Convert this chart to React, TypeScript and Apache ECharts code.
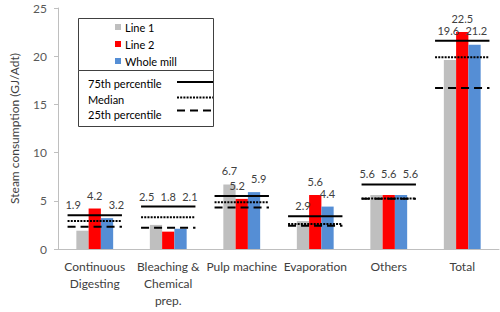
import { useEffect, useRef } from "react";
import * as echarts from "echarts";

// Steam consumption per department (GJ/Adt)
const categories = [
  "Continuous\nDigesting",
  "Bleaching &\nChemical\nprep.",
  "Pulp machine",
  "Evaporation",
  "Others",
  "Total",
];
const line1 = [1.9, 2.5, 6.7, 2.9, 5.6, 19.6];
const line2 = [4.2, 1.8, 5.2, 5.6, 5.6, 22.5];
const wholeMill = [3.2, 2.1, 5.9, 4.4, 5.6, 21.2];

// Benchmark percentiles per department
const p75 = [3.5, 4.4, 5.5, 3.4, 6.7, 21.6];
const median = [2.9, 3.3, 4.85, 2.6, 5.25, 19.9];
const p25 = [2.3, 2.2, 4.3, 2.4, 5.2, 16.7];

const yMin = 0;
const yMax = 25;
const yStep = 5;

const FONT = "Lato, 'Open Sans', sans-serif";
const LABEL_SIZE = 11;
const BAR_FRAC = 0.167; // bar width as a share of the category band
const LINE_HALF = 0.37; // half-length of percentile markers, share of band

const barSeries = [
  { name: "Line 1", values: line1, color: "#bfbfbf" },
  { name: "Line 2", values: line2, color: "#ff0000" },
  { name: "Whole mill", values: wholeMill, color: "#558ed5" },
];

const percentileSeries = [
  { name: "75th percentile", values: p75, dash: null as number[] | null },
  { name: "Median", values: median, dash: [2, 1.2] },
  { name: "25th percentile", values: p25, dash: [8, 5] },
];

// rough advance width of a numeric label
const textWidth = (s: string) =>
  s.split("").reduce((w, ch) => w + (ch === "." ? 0.26 : 0.58) * LABEL_SIZE, 0);

export default function App() {
  const ref = useRef<HTMLDivElement>(null);

  useEffect(() => {
    if (!ref.current) return;
    const chart = echarts.init(ref.current, undefined, { renderer: "svg" });

    const bars = barSeries.map((s) => ({
      name: s.name,
      type: "bar",
      data: s.values,
      barWidth: `${BAR_FRAC * 100}%`,
      barGap: "0%",
      itemStyle: { color: s.color },
      z: 2,
    }));

    // Value labels: each sits above its bar or the 75th percentile line,
    // whichever is higher, and labels of one group are pushed apart when they collide.
    const labelSeries = {
      type: "custom",
      name: "value labels",
      data: categories.map((_, i) => [i, line1[i], line2[i], wholeMill[i], p75[i]]),
      z: 5,
      silent: true,
      renderItem: (_params: any, api: any) => {
        const i = api.value(0);
        const band = api.size([1, 0])[0];
        const ref75 = api.value(4);
        const items = [0, 1, 2].map((k) => {
          const v = api.value(k + 1);
          const onBar = v >= ref75;
          const c = api.coord([i, onBar ? v : ref75]);
          const text = Number(v).toFixed(1);
          return {
            text,
            w: textWidth(text),
            x: c[0] + (k - 1) * band * BAR_FRAC,
            y: c[1] - (onBar ? 13.5 : 10.5),
          };
        });
        for (let it = 0; it < 30; it++) {
          for (let a = 0; a < items.length; a++) {
            for (let b = a + 1; b < items.length; b++) {
              const A = items[a];
              const B = items[b];
              if (Math.abs(A.y - B.y) >= 11) continue;
              const need = (A.w + B.w) / 2 + 6;
              const gap = B.x - A.x;
              if (gap < need) {
                const s = (need - gap) / 2;
                A.x -= s;
                B.x += s;
              }
            }
          }
        }
        return {
          type: "group",
          children: items.map((it) => ({
            type: "text",
            x: it.x,
            y: it.y,
            style: {
              text: it.text,
              align: "center",
              verticalAlign: "middle",
              fill: "#404040",
              fontSize: LABEL_SIZE,
              fontFamily: FONT,
            },
          })),
        };
      },
    };

    const markers = percentileSeries.map((s) => ({
      type: "custom",
      name: s.name,
      data: s.values.map((v, i) => [i, v]),
      z: 4,
      silent: true,
      renderItem: (_params: any, api: any) => {
        const c = api.coord([api.value(0), api.value(1)]);
        const band = api.size([1, 0])[0];
        return {
          type: "line",
          shape: {
            x1: c[0] - band * LINE_HALF,
            y1: c[1],
            x2: c[0] + band * LINE_HALF,
            y2: c[1],
          },
          style: {
            stroke: "#000",
            lineWidth: 2,
            lineDash: s.dash || undefined,
          },
        };
      },
    }));

    const legendText = (text: string, x: number, y: number) => ({
      type: "text",
      x,
      y,
      z: 11,
      style: {
        text,
        fill: "#000",
        fontSize: 11,
        fontFamily: FONT,
        verticalAlign: "middle",
      },
    });

    const legendLine = (y: number, dash: number[] | null) => ({
      type: "line",
      z: 11,
      shape: { x1: 177, y1: y, x2: 213, y2: y },
      style: { stroke: "#000", lineWidth: 2, lineDash: dash || undefined },
    });

    const graphic = [
      {
        type: "rect",
        z: 10,
        shape: { x: 78.5, y: 18.5, width: 135, height: 52 },
        style: { fill: "#fff", stroke: "#404040", lineWidth: 1 },
      },
      {
        type: "rect",
        z: 10,
        shape: { x: 78.5, y: 70.5, width: 135, height: 56 },
        style: { fill: "#fff", stroke: "#404040", lineWidth: 1 },
      },
      ...barSeries.map((s, k) => ({
        type: "rect",
        z: 11,
        shape: { x: 115, y: 24 + k * 17, width: 6, height: 6 },
        style: { fill: s.color },
      })),
      ...barSeries.map((s, k) => legendText(s.name, 125, 27 + k * 17)),
      legendText(percentileSeries[0].name, 88, 83),
      legendText(percentileSeries[1].name, 88, 99),
      legendText(percentileSeries[2].name, 88, 114),
      legendLine(82, percentileSeries[0].dash),
      legendLine(97.5, percentileSeries[1].dash),
      legendLine(110.5, percentileSeries[2].dash),
    ];

    chart.setOption({
      animation: false,
      backgroundColor: "#fff",
      textStyle: { fontFamily: FONT },
      grid: { left: 51, right: 1, top: 8, bottom: 63, containLabel: false },
      xAxis: {
        type: "category",
        data: categories,
        axisLine: { lineStyle: { color: "#bfbfbf", width: 1 } },
        axisTick: { show: false },
        axisLabel: {
          interval: 0,
          color: "#404040",
          fontSize: 12,
          lineHeight: 17,
          margin: 9,
          fontFamily: FONT,
        },
      },
      yAxis: {
        type: "value",
        min: yMin,
        max: yMax,
        interval: yStep,
        name: "Steam consumption (GJ/Adt)",
        nameLocation: "middle",
        nameGap: 38,
        nameTextStyle: { color: "#404040", fontSize: 12, fontFamily: FONT },
        axisLine: { show: true, lineStyle: { color: "#bfbfbf", width: 1 } },
        axisTick: { show: true, length: 4, lineStyle: { color: "#bfbfbf" } },
        splitLine: { show: false },
        axisLabel: { color: "#595959", fontSize: 12, margin: 11, fontFamily: FONT },
      },
      series: [...bars, ...markers, labelSeries],
      graphic,
    });

    return () => chart.dispose();
  }, []);

  return (
    <div
      ref={ref}
      style={{ position: "fixed", left: 0, top: 0, width: 500, height: 312 }}
    />
  );
}
